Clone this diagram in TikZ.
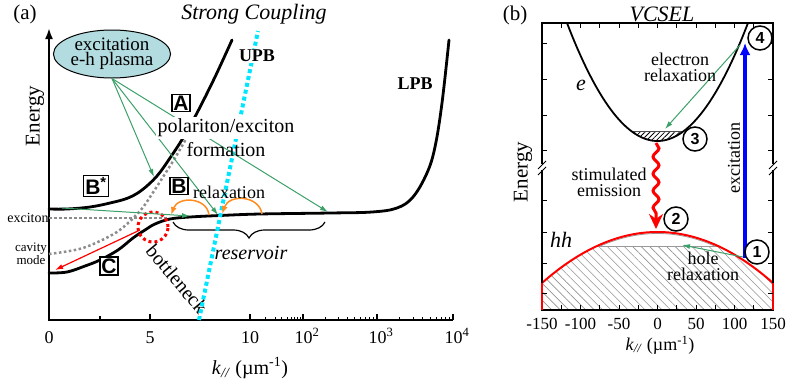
\documentclass[tikz,border=0pt]{standalone}
\usepackage{fontspec}
\setmainfont{Liberation Serif}
\setsansfont{Liberation Sans}
\usetikzlibrary{arrows.meta,shapes.geometric,decorations.pathreplacing,decorations.pathmorphing,patterns.meta}
\definecolor{grn}{RGB}{60,160,105}
\definecolor{org}{RGB}{255,140,30}
\definecolor{cyn}{RGB}{0,230,255}
\definecolor{ellf}{RGB}{178,220,224}
\definecolor{dotg}{RGB}{140,140,140}
\newcommand{\fsz}[2]{\fontsize{#1}{#2}\selectfont}
\tikzset{
  lbl/.style={inner sep=0pt, font=\fsz{20}{20}},
  boxl/.style={draw, line width=1.3pt, inner sep=1.5pt, fill=white, font=\sffamily\bfseries\fsz{21}{21}},
  circ/.style={circle, draw, line width=1.5pt, inner sep=0pt, minimum size=24pt, fill=white, font=\sffamily\bfseries\fsz{16}{16}},
  garrow/.style={draw=grn, line width=1pt, -{Latex[length=8pt,width=5pt]}},
  curve/.style={line width=2.8pt, line cap=round},
  dotcurve/.style={dotg, line width=2.5pt, dash pattern=on 2.5pt off 2.5pt},
  ticklbl/.style={inner sep=0pt, font=\fsz{18}{18}},
  rticklbl/.style={inner sep=0pt, font=\fsz{17}{17}},
}
\begin{document}
\begin{tikzpicture}[x=1pt,y=-1pt]
\useasboundingbox (0,0) rectangle (789,386);

% ================= Panel (a) =================
% axes
\draw[line width=2pt, -{Latex[length=11pt,width=8pt]}] (49,321) -- (49,28);
\draw[line width=1.8pt] (48,320) -- (453,320);
\foreach \t in {49,150,250,303,377,453} \draw[line width=1.2pt] (\t,320) -- (\t,314);
\foreach \t in {100,200} \draw[line width=1.2pt] (\t,320) -- (\t,316);
\foreach \a/\b in {250/303,303/377,377/453}
  \foreach \m in {2,...,9}
    \draw[line width=1pt] ({\a+(\b-\a)*log10(\m)},320) -- ++(0,-3.5);

% tick labels
\node[ticklbl] (t0) at (49,338) {0};
\node[ticklbl] (t5) at (150,338) {5};
\node[ticklbl] (t10) at (250,338) {10};
\node[ticklbl] (t100) at (307,336) {10\textsuperscript{2}};
\node[ticklbl] (t1000) at (381,336) {10\textsuperscript{3}};
\node[ticklbl] (t10000) at (457,336) {10\textsuperscript{4}};
\node[inner sep=0pt, font=\fsz{20}{20}] (xla) at (250,368) {\textit{k}\textsubscript{\textit{//}} (µm\textsuperscript{-1})};
\node[rotate=90, inner sep=0pt, font=\fsz{21}{21}] (ena) at (35,116) {Energy};
\node[inner sep=0pt, font=\fsz{21}{21}] (la) at (25,14) {(a)};
\node[inner sep=0pt, font=\itshape\fsz{22}{22}] (sc) at (254,14) {Strong Coupling};

% dotted uncoupled modes
\draw[dotcurve] (49,218) -- (168,218);
\draw[dotcurve] plot[smooth] coordinates {(49,254) (83,248) (117,232) (140,211) (152,194) (163,177) (175,158) (186,139)};
\node[inner sep=0pt, font=\fsz{14}{14}] (exl) at (28,218) {exciton};
\node[inner sep=0pt, align=center, font=\fsz{13}{11}] (cml) at (31,254) {cavity\\mode};

% polariton branches
\draw[curve] plot[smooth, tension=0.6] coordinates {(49,209) (67,209) (90,207) (110,203) (128,198) (142,190) (157,176) (170,158) (183,138) (197,113) (215,77) (232,40)};
\draw[curve] plot[smooth, tension=0.6] coordinates {(49,273) (67,272) (85,266) (100,260) (118,250) (133,238) (145,230) (155,224) (170,219) (190,217) (220,215.5) (260,214) (330,213) (372,212) (397,208) (413,197) (427,173) (435,147) (442,103) (449,40)};

% bottleneck circle
\node[circle, draw=red, line width=3pt, dash pattern=on 3pt off 3pt, minimum size=30pt, inner sep=0pt] (bn) at (153,227) {};

% brace
\coordinate (brL) at (173,222);
\coordinate (brR) at (325,222);
\draw[line width=1.2pt, decorate, decoration={brace, amplitude=16pt, mirror}] (brL) -- (brR);
\node[inner sep=0pt, font=\itshape\fsz{20}{20}] (res) at (251,253) {reservoir};
\node[rotate=-50, inner sep=0pt, font=\fsz{20}{20}] (btl) at (177,279) {bottleneck};

% cyan line
\coordinate (cyB) at (199,320);
\coordinate (cyT) at (258,31);
\draw[cyn, line width=4pt, dash pattern=on 4pt off 3pt] (cyB) -- (cyT);
\node[fill=white, inner sep=1pt, font=\bfseries\fsz{18}{18}] (upb) at (257,56) {UPB};
\node[inner sep=0pt, font=\bfseries\fsz{18}{18}] (lpb) at (415,84) {LPB};

% excitation ellipse and green arrows
\node[ellipse, draw, line width=1pt, fill=ellf, minimum width=112pt, minimum height=48pt, inner sep=0pt, align=center, font=\fsz{19}{15}] (pl) at (112,54) {excitation\\e-h plasma};
\coordinate (tBs) at (154,177);
\coordinate (tB) at (218,215);
\coordinate (tR) at (328,212);
\coordinate (uS) at (62,208);
\coordinate (uE) at (190,216);
\draw[garrow] (pl.south) -- (tBs);
\draw[garrow] (pl.south) -- (tB);
\draw[garrow] (pl.south) -- (tR);
\draw[garrow] (uS) -- (uE);

% red arrow C
\coordinate (cS) at (140,230);
\coordinate (cE) at (55,270);
\draw[red, line width=1.2pt, -{Latex[length=8pt,width=5pt]}] (cS) -- (cE);

% orange arcs
\coordinate (o1s) at (209,215);
\coordinate (o1e) at (171,215);
\coordinate (o2s) at (262,214);
\coordinate (o2e) at (222,214);
\draw[org, line width=1.5pt, -{Latex[length=8pt,width=6pt]}] (o1s) .. controls (207,197) and (178,196) .. (o1e);
\draw[org, line width=1.5pt, -{Latex[length=8pt,width=6pt]}] (o2s) .. controls (259,195) and (229,194) .. (o2e);

% texts
\node[fill=white, inner sep=1.5pt, font=\fsz{20}{20}] (pol) at (226,128) {polariton/exciton};
\node[inner sep=0pt, font=\fsz{20}{20}] (form) at (226,150) {formation};
\node[inner sep=0pt, font=\fsz{18}{18}] (rlx) at (229,192) {relaxation};

% boxed labels
\node[boxl] (bA) at (181,103) {A};
\node[boxl] (bBs) at (96,186) {B\textsuperscript{*}};
\node[boxl] (bB) at (179,186) {B};
\node[boxl] (bC) at (109,266) {C};

% ================= Panel (b) =================
\node[inner sep=0pt, font=\fsz{21}{21}] (lb) at (515,15) {(b)};
\node[inner sep=0pt, font=\itshape\fsz{22}{22}] (vc) at (662,14) {VCSEL};

% hh hatched region
\fill[pattern={Lines[angle=-45,distance=6pt,line width=0.6pt]}, pattern color=gray!85]
  (542,310) -- (542,283) -- plot[domain=-150:-78.6,samples=30] ({657.5+0.77*\x},{232+51*(\x/150)^2})
  -- plot[domain=78.6:150,samples=30] ({657.5+0.77*\x},{232+51*(\x/150)^2}) -- (773,310) -- cycle;
\draw[gray!80, line width=1pt] (597,246) -- (718,246);
\draw[gray!80, line width=0.8pt] plot[domain=-76:76,samples=40] ({657.5+0.77*\x},{233.5+51*(\x/150)^2});
\draw[red, line width=2pt] plot[domain=-150:150,samples=80] ({657.5+0.77*\x},{232+51*(\x/150)^2});

% electron band
\fill[pattern={Lines[angle=45,distance=3.5pt,line width=0.8pt]}] plot[domain=-34.2:34.2,samples=30] ({657.5+0.77*\x},{141-118*(\x/117.5)^2}) -- cycle;
\draw[black!70, line width=0.6pt] (631,131) -- (684,131);
\draw[line width=1.8pt] plot[domain=-117.5:117.5,samples=100] ({657.5+0.77*\x},{141-118*(\x/117.5)^2});

% frame
\draw[line width=1.3pt] (542,164) -- (542,23) -- (773,23) -- (773,164);
\draw[line width=1.3pt] (542,170) -- (542,310) -- (773,310) -- (773,170);
\draw[red, line width=2pt] (542,283) -- (542,310);
\draw[red, line width=2pt] (773,283) -- (773,310);
\foreach \xx in {542,773} {
  \draw[line width=1pt] (\xx-4,169) -- (\xx+4,161);
  \draw[line width=1pt] (\xx-4,175) -- (\xx+4,167);
}
\foreach \yy in {43,79,115,150,200,232,263,293} {
  \draw[line width=1pt] (542,\yy) -- ++(5,0);
  \draw[line width=1pt] (773,\yy) -- ++(-5,0);
}
\foreach \k in {-125,-100,...,125} {
  \draw[line width=1pt] ({657.5+0.77*\k},310) -- ++(0,-5);
  \draw[line width=1pt] ({657.5+0.77*\k},23) -- ++(0,5);
}

% tick labels
\node[rticklbl] (r1) at (542,324) {-150};
\node[rticklbl] (r2) at (580.5,324) {-100};
\node[rticklbl] (r3) at (619,324) {-50};
\node[rticklbl] (r4) at (657.5,324) {0};
\node[rticklbl] (r5) at (696,324) {50};
\node[rticklbl] (r6) at (734.5,324) {100};
\node[rticklbl] (r7) at (773,324) {150};
\node[inner sep=0pt, font=\fsz{18}{18}] (xlb) at (660,345) {\textit{k}\textsubscript{\textit{//}} (µm\textsuperscript{-1})};
\node[rotate=90, inner sep=0pt, font=\fsz{21}{21}] (enb) at (523,172) {Energy};

\node[inner sep=0pt, font=\itshape\fsz{22}{22}] (el) at (581,85) {e};
\node[inner sep=0pt, font=\itshape\fsz{22}{22}] (hhl) at (561,240) {hh};

% arrows
\coordinate (c1) at (745,258);
\coordinate (c4) at (745,43);
\draw[blue, line width=4pt, -{Latex[length=12pt,width=11pt]}] (c1) -- (c4);
\coordinate (e4) at (740,45);
\coordinate (e3) at (665,129);
\draw[garrow] (e4) -- (e3);
\coordinate (h1) at (743,257);
\coordinate (h0) at (682,245);
\draw[garrow] (h1) -- (h0);
\coordinate (w3) at (656,143);
\coordinate (w2) at (656,229);
\draw[red, line width=3pt, decorate, decoration={snake, amplitude=3pt, segment length=17pt, post length=10pt}, -{Stealth[length=15pt,width=14pt]}] (w3) -- (w2);

\node[inner sep=0pt, align=center, font=\fsz{18}{16}] (erl) at (680,67) {electron\\relaxation};
\node[inner sep=0pt, align=center, font=\fsz{18}{16}] (stm) at (609,182) {stimulated\\emission};
\node[inner sep=0pt, align=center, font=\fsz{18}{16}] (hrl) at (703,266) {hole\\relaxation};
\node[rotate=90, inner sep=0pt, font=\fsz{18}{18}] (exc) at (734,158) {excitation};

\node[circ] (n1) at (757,252) {1};
\node[circ] (n2) at (676,219) {2};
\node[circ] (n3) at (695,139) {3};
\node[circ] (n4) at (760,38) {4};
\end{tikzpicture}
\end{document}
